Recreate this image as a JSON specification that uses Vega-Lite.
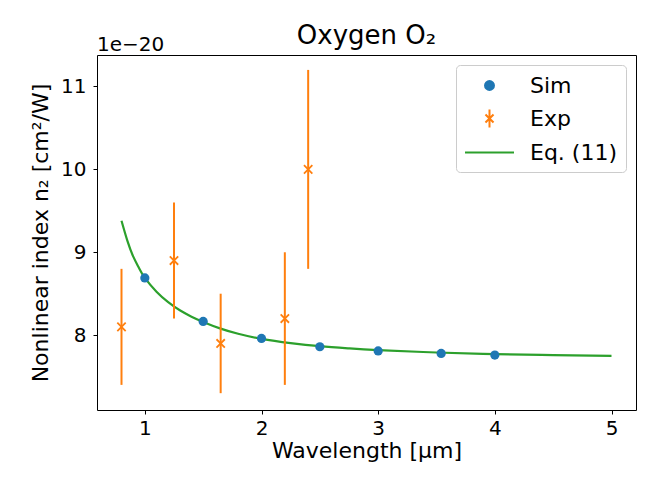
{
  "$schema": "https://vega.github.io/schema/vega-lite/v6.json",
  "width": 539,
  "height": 355,
  "autosize": "none",
  "padding": {"left": 97, "top": 55, "right": 28, "bottom": 88},
  "background": "white",
  "config": {
    "font": "DejaVu Sans",
    "view": {"stroke": "black", "strokeWidth": 1},
    "axis": {
      "grid": false, "domain": false, "tickColor": "black", "tickSize": 4, "tickWidth": 1,
      "labelFontSize": 20, "labelColor": "black", "labelPadding": 4, "format": "~g",
      "titleFontSize": 22, "titleFontWeight": "normal", "titleColor": "black"
    },
    "legend": {
      "orient": "top-right", "offset": 10, "fillColor": "white", "strokeColor": "#cccccc",
      "cornerRadius": 4, "padding": 8, "labelFontSize": 22, "labelColor": "black",
      "symbolSize": 529, "symbolOffset": 13, "rowPadding": 8, "labelOffset": 28
    }
  },
  "title": {"text": "Oxygen O₂", "fontSize": 26, "fontWeight": "normal", "color": "black", "frame": "group", "offset": -14},
  "datasets": {
    "sim": [
      {"wl": 1.0, "n2": 8.69}, {"wl": 1.5, "n2": 8.165}, {"wl": 2.0, "n2": 7.96},
      {"wl": 2.5, "n2": 7.86}, {"wl": 3.0, "n2": 7.81}, {"wl": 3.54, "n2": 7.78}, {"wl": 4.0, "n2": 7.76}
    ],
    "exp": [
      {"wl": 0.8, "n2": 8.1, "lo": 7.4, "hi": 8.8},
      {"wl": 1.25, "n2": 8.9, "lo": 8.2, "hi": 9.6},
      {"wl": 1.65, "n2": 7.9, "lo": 7.3, "hi": 8.5},
      {"wl": 2.2, "n2": 8.2, "lo": 7.4, "hi": 9.0},
      {"wl": 2.4, "n2": 10.0, "lo": 8.8, "hi": 11.2}
    ],
    "fit": [
      {"wl": 0.8, "n2": 9.38}, {"wl": 0.85, "n2": 9.14}, {"wl": 0.9, "n2": 8.95}, {"wl": 0.95, "n2": 8.81},
      {"wl": 1.0, "n2": 8.69}, {"wl": 1.1, "n2": 8.524}, {"wl": 1.2, "n2": 8.398}, {"wl": 1.3, "n2": 8.30},
      {"wl": 1.4, "n2": 8.223}, {"wl": 1.5, "n2": 8.16}, {"wl": 1.65, "n2": 8.079}, {"wl": 1.8, "n2": 8.017},
      {"wl": 2.0, "n2": 7.955}, {"wl": 2.25, "n2": 7.904}, {"wl": 2.5, "n2": 7.867}, {"wl": 2.75, "n2": 7.84},
      {"wl": 3.0, "n2": 7.819}, {"wl": 3.5, "n2": 7.791}, {"wl": 4.0, "n2": 7.772}, {"wl": 4.5, "n2": 7.759},
      {"wl": 5.0, "n2": 7.75}
    ]
  },
  "layer": [
    {
      "data": {"name": "fit"},
      "mark": {"type": "line", "strokeWidth": 2.2, "interpolate": "natural"},
      "encoding": {
        "x": {
          "field": "wl", "type": "quantitative",
          "scale": {"domain": [0.59, 5.21], "nice": false, "zero": false},
          "axis": {"values": [1, 2, 3, 4, 5], "title": "Wavelength [μm]", "titlePadding": 2}
        },
        "y": {
          "field": "n2", "type": "quantitative",
          "scale": {"domain": [7.097, 11.38], "nice": false, "zero": false},
          "axis": {"values": [8, 9, 10, 11], "title": "Nonlinear index n₂ [cm²/W]", "titlePadding": 8, "labelPadding": 7}
        },
        "color": {
          "datum": "Eq. (11)", "type": "nominal",
          "scale": {"domain": ["Sim", "Exp", "Eq. (11)"], "range": ["#1f77b4", "#ff7f0e", "#2ca02c"]},
          "legend": {
            "title": null,
            "encode": {
              "symbols": {
                "update": {
                  "shape": {"signal": "datum.value === 'Sim' ? 'circle' : datum.value === 'Exp' ? 'M-0.35,-0.35L0.35,0.35M-0.35,0.35L0.35,-0.35M0,-0.78L0,0.78' : 'M-2.13,0L2.13,0'"},
                  "size": {"signal": "datum.value === 'Sim' ? 80 : 529"},
                  "fill": {"signal": "datum.value === 'Sim' ? '#1f77b4' : 'transparent'"},
                  "stroke": {"signal": "datum.value === 'Sim' ? 'transparent' : datum.value === 'Exp' ? '#ff7f0e' : '#2ca02c'"},
                  "strokeWidth": {"value": 2},
                  "opacity": {"value": 1}
                }
              }
            }
          }
        }
      }
    },
    {
      "data": {"name": "exp"},
      "mark": {"type": "rule", "strokeWidth": 2},
      "encoding": {
        "x": {"field": "wl", "type": "quantitative"},
        "y": {"field": "lo", "type": "quantitative"},
        "y2": {"field": "hi"},
        "color": {"datum": "Exp", "type": "nominal"}
      }
    },
    {
      "data": {"name": "exp"},
      "mark": {"type": "point", "shape": "M-1,-1L1,1M-1,1L1,-1", "filled": false, "size": 70, "strokeWidth": 1.8, "opacity": 1},
      "encoding": {
        "x": {"field": "wl", "type": "quantitative"},
        "y": {"field": "n2", "type": "quantitative"},
        "color": {"datum": "Exp", "type": "nominal"}
      }
    },
    {
      "data": {"name": "sim"},
      "mark": {"type": "point", "shape": "circle", "filled": true, "size": 85, "opacity": 1},
      "encoding": {
        "x": {"field": "wl", "type": "quantitative"},
        "y": {"field": "n2", "type": "quantitative"},
        "color": {"datum": "Sim", "type": "nominal"}
      }
    },
    {
      "data": {"values": [{"note": "offset"}]},
      "mark": {"type": "text", "align": "left", "baseline": "alphabetic", "dy": -4, "fontSize": 20, "fill": "black", "clip": false},
      "encoding": {
        "x": {"datum": 0.59, "type": "quantitative"},
        "y": {"datum": 11.38, "type": "quantitative"},
        "text": {"value": "1e−20"}
      }
    }
  ]
}
